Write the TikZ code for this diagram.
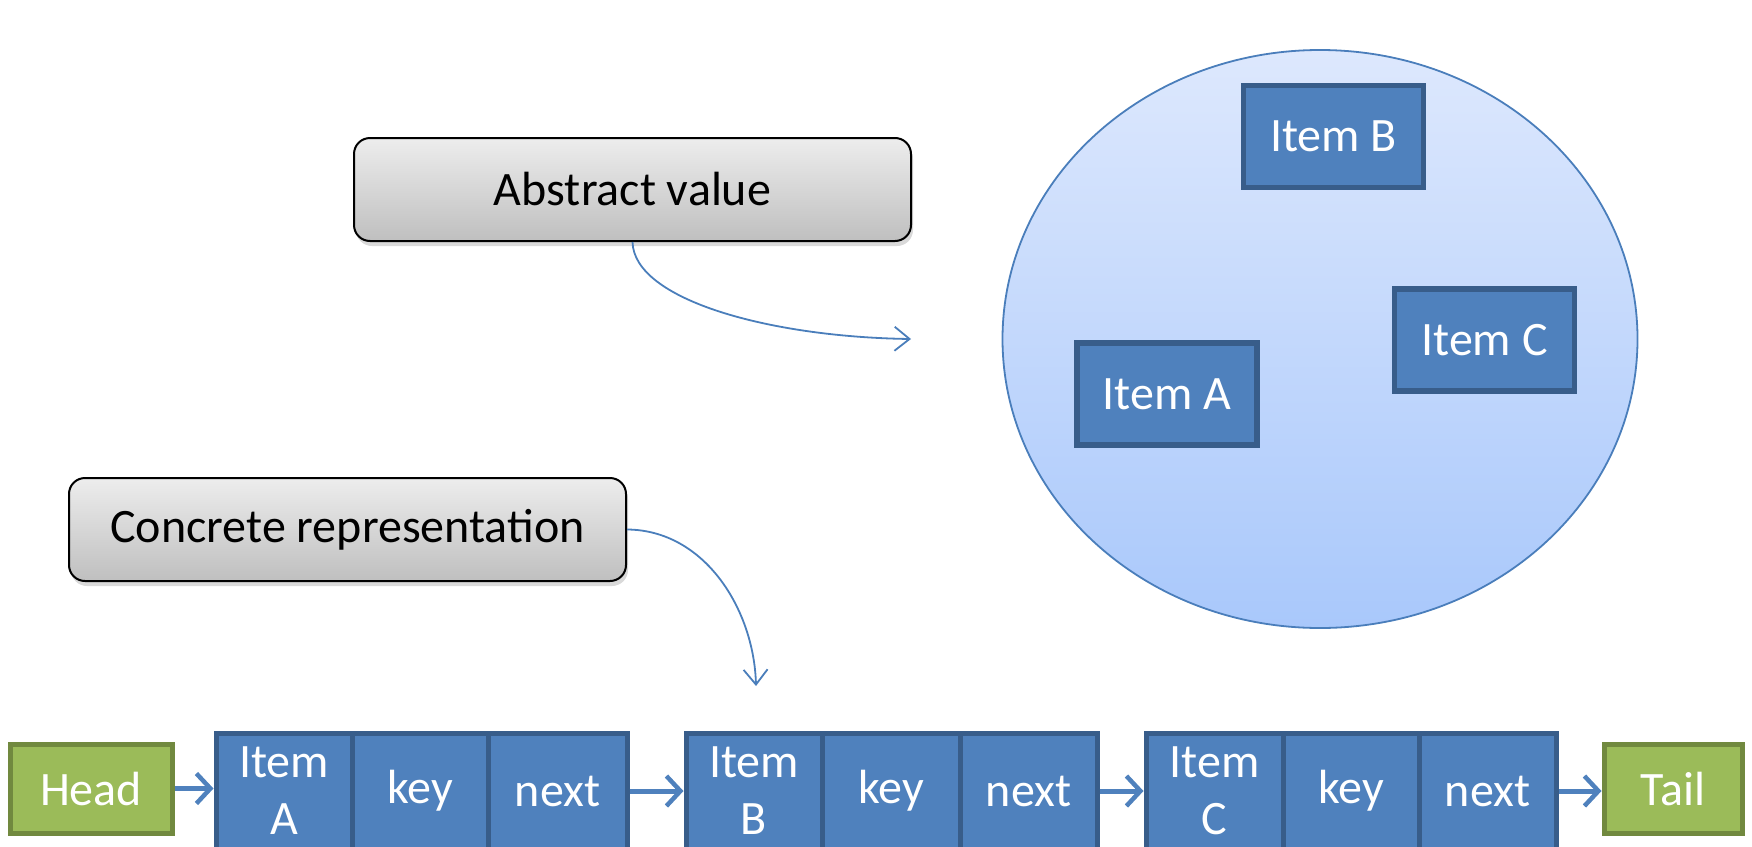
\documentclass[tikz,border=0pt]{standalone}
\usepackage{fontspec}
\setmainfont{Carlito}
\usetikzlibrary{shapes.geometric,shadows,arrows.meta}
\definecolor{blockfill}{HTML}{4F81BD}
\definecolor{blockdraw}{HTML}{385D8A}
\definecolor{greenfill}{HTML}{9BBB59}
\definecolor{greendraw}{HTML}{71893F}
\definecolor{circtop}{HTML}{DDE8FD}
\definecolor{circbot}{HTML}{A9C8FB}
\definecolor{circdraw}{HTML}{4A7EBB}
\definecolor{linkblue}{HTML}{4A7EBB}
\definecolor{graytop}{HTML}{EDEDED}
\definecolor{graybot}{HTML}{BFBFBF}
\tikzset{
  labelbox/.style={draw=black, line width=2pt, rounded corners=16pt,
    top color=graytop, bottom color=graybot,
    drop shadow={shadow xshift=2pt, shadow yshift=-5pt, opacity=0.3},
    inner sep=0pt, font=\fontsize{48}{52}\selectfont, text=black},
  cell/.style={draw=blockdraw, fill=blockfill, line width=5pt, inner sep=0pt,
    minimum height=116pt, text=white, align=center,
    font=\fontsize{48}{57}\selectfont},
  setitem/.style={draw=blockdraw, fill=blockfill, line width=5.5pt, inner sep=0pt,
    minimum width=180pt, minimum height=102pt, text=white,
    font=\fontsize{48}{52}\selectfont},
  endbox/.style={draw=greendraw, fill=greenfill, line width=5pt, inner sep=0pt,
    minimum height=89pt, text=white, font=\fontsize{48}{52}\selectfont},
  thinlink/.style={draw=linkblue, line width=1.8pt,
    -{Straight Barb[length=15pt,width=24pt,line width=1.8pt]}},
  thicklink/.style={draw=blockfill, line width=5pt,
    -{Straight Barb[length=14pt,width=30pt,line width=4.5pt]}}
}
\begin{document}
\begin{tikzpicture}[x=1pt,y=-1pt]
\useasboundingbox (0,0) rectangle (1752,846);
\clip (0,0) rectangle (1752,846);

% set picture
\node[ellipse, draw=circdraw, line width=1.8pt, top color=circtop, bottom color=circbot,
      minimum width=635pt, minimum height=578pt, inner sep=0pt] (set) at (1320,339) {};
\node[setitem] (sb) at (1333.5,136.5) {Item B};
\node[setitem] (sc) at (1484.5,340) {Item C};
\node[setitem] (sa) at (1167,394) {Item A};

% label boxes
\node[labelbox, minimum width=557pt, minimum height=103pt] (abs) at (632.5,189.5) {Abstract value};
\node[labelbox, minimum width=557pt, minimum height=103pt] (conc) at (347.5,529.5) {Concrete representation};

\coordinate (absend) at (911,339);
\coordinate (concend) at (756,686);
\draw[thinlink] (abs.south) .. controls (634,300) and (770,337) .. (absend);
\draw[thinlink] (conc.east) .. controls (705,530) and (754,610) .. (concend);

% linked list
\node[endbox, minimum width=162pt] (head) at (91,788.5) {Head};
\node[cell, minimum width=136pt] (a1) at (284,791) {Item\\A};
\node[cell, minimum width=136pt] (a2) at (420,791) {key};
\node[cell, minimum width=139pt] (a3) at (557.5,791) {next};
\node[cell, minimum width=136pt] (b1) at (754,791) {Item\\B};
\node[cell, minimum width=138pt] (b2) at (891,791) {key};
\node[cell, minimum width=137pt] (b3) at (1028.5,791) {next};
\node[cell, minimum width=137pt] (c1) at (1214.5,791) {Item\\C};
\node[cell, minimum width=136pt] (c2) at (1351,791) {key};
\node[cell, minimum width=137pt] (c3) at (1487.5,791) {next};
\node[endbox, minimum width=138pt] (tail) at (1673,788.5) {Tail};

\draw[thicklink] (head.east) -- (head.east -| a1.west);
\draw[thicklink] (a3.east) -- (b1.west);
\draw[thicklink] (b3.east) -- (c1.west);
\draw[thicklink] (c3.east) -- (c3.east -| tail.west);
\end{tikzpicture}
\end{document}
